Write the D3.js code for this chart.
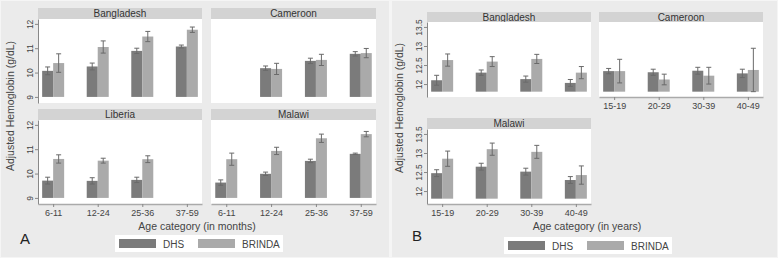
<!DOCTYPE html>
<html>
<head>
<meta charset="utf-8">
<script src="https://cdn.jsdelivr.net/npm/d3@7"></script>
<style>
  body { margin: 0; background: #f5f5f5; }
  svg { display: block; font-family: "Liberation Sans", Arial, sans-serif; }
</style>
</head>
<body>
<div id="chart"></div>
<script>
// age categories
var agesA = ["6-11", "12-24", "25-36", "37-59"];
var agesB = ["15-19", "20-29", "30-39", "40-49"];
var seriesNames = ["DHS", "BRINDA"];

// Figure A (children) - mean and CI half width, null = no data
var aBangladeshDHS = [10.07, 10.25, 10.89, 11.07];
var aBangladeshDHSci = [0.16, 0.14, 0.11, 0.06];
var aBangladeshBR = [10.39, 11.05, 11.48, 11.76];
var aBangladeshBRci = [0.38, 0.25, 0.21, 0.11];

var aCameroonDHS = [null, 10.18, 10.48, 10.77];
var aCameroonDHSci = [null, 0.09, 0.11, 0.09];
var aCameroonBR = [null, 10.15, 10.52, 10.80];
var aCameroonBRci = [null, 0.23, 0.23, 0.19];

var aLiberiaDHS = [9.71, 9.70, 9.74, null];
var aLiberiaDHSci = [0.14, 0.13, 0.11, null];
var aLiberiaBR = [10.60, 10.53, 10.59, null];
var aLiberiaBRci = [0.17, 0.10, 0.14, null];

var aMalawiDHS = [9.63, 9.99, 10.52, 10.81];
var aMalawiDHSci = [0.11, 0.07, 0.07, 0.03];
var aMalawiBR = [10.59, 10.93, 11.45, 11.62];
var aMalawiBRci = [0.25, 0.15, 0.17, 0.11];

// Figure B (women)
var bBangladeshDHS = [12.10, 12.30, 12.13, 12.03];
var bBangladeshDHSci = [0.13, 0.07, 0.08, 0.09];
var bBangladeshBR = [12.63, 12.59, 12.66, 12.30];
var bBangladeshBRci = [0.16, 0.13, 0.12, 0.16];

var bCameroonDHS = [12.34, 12.31, 12.35, 12.28];
var bCameroonDHSci = [0.07, 0.08, 0.09, 0.11];
var bCameroonBR = [12.34, 12.12, 12.22, 12.37];
var bCameroonBRci = [0.31, 0.14, 0.22, 0.57];

var bMalawiDHS = [12.47, 12.64, 12.51, 12.29];
var bMalawiDHSci = [0.09, 0.09, 0.09, 0.09];
var bMalawiBR = [12.85, 13.10, 13.03, 12.42];
var bMalawiBRci = [0.20, 0.16, 0.17, 0.24];

var ticksA = [9, 10, 11, 12];
var ticksB = [12, 12.5, 13, 13.5];

var W = 778, H = 258;
var colDHS = "#7b7b7b", colBR = "#aaaaaa", colErr = "#6a6a6a";
var colText = "#444", colHead = "#d3d3d3", colFig = "#ebebeb";

var svg = d3.select("#chart").append("svg")
    .attr("width", W)
    .attr("height", H);

function panelData(ages, dhs, dhsCi, br, brCi) {
    return ages.map(function(a, i) {
        return { age: a, dhs: dhs[i], dhsCi: dhsCi[i], br: br[i], brCi: brCi[i] };
    });
}

function drawPanel(g, p) {
    // header strip
    g.append("rect")
        .attr("x", p.x0).attr("y", p.hy0)
        .attr("width", p.x1 - p.x0).attr("height", p.y0 - p.hy0)
        .attr("fill", colHead);
    g.append("text")
        .attr("x", (p.x0 + p.x1) / 2).attr("y", (p.hy0 + p.y0) / 2 + 3.5)
        .attr("text-anchor", "middle")
        .attr("font-size", 10).attr("fill", "#333")
        .text(p.title);
    // plot area
    g.append("rect")
        .attr("x", p.x0).attr("y", p.y0)
        .attr("width", p.x1 - p.x0).attr("height", p.y1 - p.y0)
        .attr("fill", "#fff");

    var x = d3.scalePoint().domain(p.ages).range([p.x0, p.x1]).padding(0.34);
    var y = d3.scaleLinear().domain(p.domain).range([p.y1, p.y0]);
    var bw = 11;

    [["dhs", "dhsCi", colDHS, -bw], ["br", "brCi", colBR, 0]].forEach(function(s) {
        var key = s[0], ci = s[1];
        var rows = p.data.filter(function(d) { return d[key] != null; });
        g.selectAll("rect." + key)
            .data(rows)
            .enter()
            .append("rect")
            .attr("x", function(d) { return x(d.age) + s[3]; })
            .attr("y", function(d) { return y(d[key]); })
            .attr("width", bw)
            .attr("height", function(d) { return y(p.base) - y(d[key]); })
            .attr("fill", s[2]);
        var cx = function(d) { return x(d.age) + s[3] + bw / 2; };
        g.selectAll("line.e" + key)
            .data(rows)
            .enter()
            .append("line")
            .attr("x1", cx).attr("x2", cx)
            .attr("y1", function(d) { return y(d[key] - d[ci]); })
            .attr("y2", function(d) { return y(d[key] + d[ci]); })
            .attr("stroke", colErr).attr("stroke-width", 1);
        [1, -1].forEach(function(sg) {
            g.selectAll("line.c" + key + sg)
                .data(rows)
                .enter()
                .append("line")
                .attr("x1", function(d) { return cx(d) - 2.5; })
                .attr("x2", function(d) { return cx(d) + 2.5; })
                .attr("y1", function(d) { return y(d[key] + sg * d[ci]); })
                .attr("y2", function(d) { return y(d[key] + sg * d[ci]); })
                .attr("stroke", colErr).attr("stroke-width", 1);
        });
    });

    if (p.yAxis) {
        var ya = g.append("g")
            .attr("transform", "translate(" + p.x0 + ",0)")
            .call(d3.axisLeft(y).tickValues(p.ticks).tickFormat(function(d) { return String(d); })
                .tickSize(3).tickSizeOuter(0));
        ya.select(".domain").attr("stroke", "#888");
        ya.selectAll(".tick line").attr("stroke", "#888");
        ya.selectAll(".tick text")
            .attr("x", 0).attr("y", -5)
            .attr("dy", 0)
            .attr("text-anchor", "middle")
            .attr("transform", "rotate(-90)")
            .attr("font-size", 8.5)
            .attr("fill", colText);
    }
    if (p.xAxis) {
        var xa = g.append("g")
            .attr("transform", "translate(0," + p.y1 + ")")
            .call(d3.axisBottom(x).tickSize(3).tickSizeOuter(0).tickPadding(3));
        xa.select(".domain").attr("stroke", "#aaa").attr("stroke-width", 1.5);
        xa.selectAll(".tick line").attr("stroke", "#888");
        xa.selectAll(".tick text")
            .attr("font-size", 9)
            .attr("fill", colText);
    }
}

function drawLegend(g, lx, ly) {
    g.append("rect")
        .attr("x", lx).attr("y", ly)
        .attr("width", 168).attr("height", 17)
        .attr("fill", "#fff");
    var items = g.selectAll("g.leg")
        .data(seriesNames)
        .enter()
        .append("g")
        .attr("transform", function(d, i) { return "translate(" + (lx + 4 + i * 79) + "," + (ly + 4) + ")"; });
    items.append("rect")
        .attr("width", 37).attr("height", 9)
        .attr("fill", function(d, i) { return i === 0 ? colDHS : colBR; });
    items.append("text")
        .attr("x", 44).attr("y", 8.5)
        .attr("font-size", 10).attr("fill", colText)
        .text(function(d) { return d; });
}

function yTitle(g, cx, cy) {
    g.append("text")
        .attr("transform", "translate(" + cx + "," + cy + ") rotate(-90)")
        .attr("text-anchor", "middle")
        .attr("font-size", 10.5).attr("fill", colText)
        .text("Adjusted Hemoglobin (g/dL)");
}

// figure backgrounds
svg.append("rect").attr("x", 1).attr("y", 1).attr("width", 388).attr("height", H - 2).attr("fill", colFig);
svg.append("rect").attr("x", 392).attr("y", 1).attr("width", W - 393).attr("height", H - 2).attr("fill", colFig);

// Figure A
var gA = svg.append("g");
var domA = [8.75, 12.2];
var panelsA = [
    { title: "Bangladesh", data: panelData(agesA, aBangladeshDHS, aBangladeshDHSci, aBangladeshBR, aBangladeshBRci),
      x0: 38, x1: 202, hy0: 8, y0: 19, y1: 103, yAxis: true, xAxis: false },
    { title: "Cameroon", data: panelData(agesA, aCameroonDHS, aCameroonDHSci, aCameroonBR, aCameroonBRci),
      x0: 211, x1: 376, hy0: 8, y0: 19, y1: 103, yAxis: false, xAxis: false },
    { title: "Liberia", data: panelData(agesA, aLiberiaDHS, aLiberiaDHSci, aLiberiaBR, aLiberiaBRci),
      x0: 38, x1: 202, hy0: 109, y0: 120, y1: 204, yAxis: true, xAxis: true },
    { title: "Malawi", data: panelData(agesA, aMalawiDHS, aMalawiDHSci, aMalawiBR, aMalawiBRci),
      x0: 211, x1: 376, hy0: 109, y0: 120, y1: 204, yAxis: false, xAxis: true }
];
panelsA.forEach(function(p) {
    p.ages = agesA; p.domain = domA; p.base = 9; p.ticks = ticksA;
    drawPanel(gA.append("g"), p);
});
yTitle(gA, 14, 106);
gA.append("text").attr("x", 197).attr("y", 230).attr("text-anchor", "middle")
    .attr("font-size", 10.5).attr("fill", colText).text("Age category (in months)");
drawLegend(gA, 115, 235);
gA.append("text").attr("x", 20).attr("y", 244).attr("font-size", 15).attr("fill", "#222").text("A");

// Figure B
var gB = svg.append("g");
var domB = [11.66, 13.63];
var panelsB = [
    { title: "Bangladesh", data: panelData(agesB, bBangladeshDHS, bBangladeshDHSci, bBangladeshBR, bBangladeshBRci),
      x0: 427, x1: 591, hy0: 12, y0: 22, y1: 97, yAxis: true, xAxis: false },
    { title: "Cameroon", data: panelData(agesB, bCameroonDHS, bCameroonDHSci, bCameroonBR, bCameroonBRci),
      x0: 599, x1: 763, hy0: 12, y0: 22, y1: 97, yAxis: false, xAxis: true },
    { title: "Malawi", data: panelData(agesB, bMalawiDHS, bMalawiDHSci, bMalawiBR, bMalawiBRci),
      x0: 427, x1: 591, hy0: 118, y0: 129, y1: 204, yAxis: true, xAxis: true }
];
panelsB.forEach(function(p) {
    p.ages = agesB; p.domain = domB; p.base = 11.8; p.ticks = ticksB;
    drawPanel(gB.append("g"), p);
});
yTitle(gB, 403, 108);
gB.append("text").attr("x", 587).attr("y", 230).attr("text-anchor", "middle")
    .attr("font-size", 10.5).attr("fill", colText).text("Age category (in years)");
drawLegend(gB, 504, 237);
gB.append("text").attr("x", 412).attr("y", 241).attr("font-size", 15).attr("fill", "#222").text("B");
</script>
</body>
</html>
